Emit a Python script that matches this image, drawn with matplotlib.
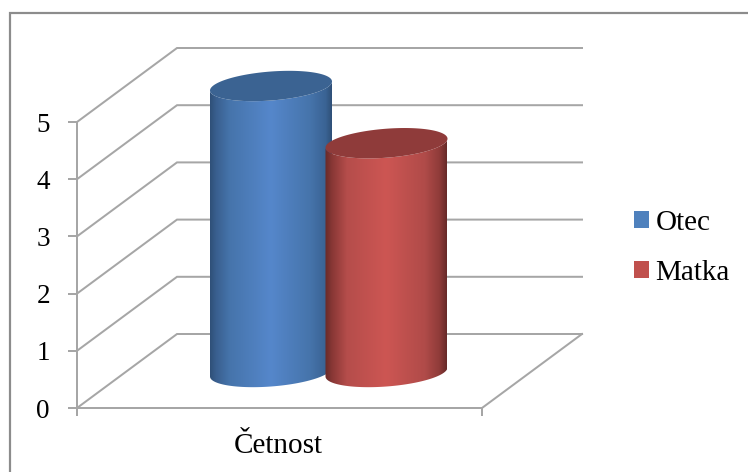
import numpy as np
import matplotlib
matplotlib.use('Agg')
import matplotlib.pyplot as plt
from matplotlib.patches import Patch, Polygon

plt.rcParams['font.family'] = ['Liberation Serif', 'DejaVu Sans']

# data
category = ['Četnost']
series_names = ['Otec', 'Matka']
otec = [5]
matka = [4]
y_ticks = [0, 1, 2, 3, 4, 5]

W, H = 748, 472
PX = 72 / 100        # points per pixel at dpi 100
UNIT = 57.2          # pixels per one y unit
GRID = '#a6a6a6'
DEPTH_X = 100
DEPTH_Y = 74 / UNIT  # the back wall is shifted up by this much
X0, X1 = 77, 482     # front edge of the floor

fig = plt.figure(figsize=(W / 100, H / 100), dpi=100)
ax = fig.add_axes([0, 0, 1, 1])
ax.patch.set_alpha(0)
ylim = (-(H - 408) / UNIT, 408 / UNIT)


def ellipse(cx, cy, t):
    # tilted cylinder cap, x in pixels and y in value units
    a, b, s = 61, 14.5 / UNIT, 4.5 / UNIT
    return cx + a * np.cos(t), cy + b * np.sin(t) + s * np.cos(t)


def cylinder(cx, value, stops, top_color, z):
    base = 36 / UNIT  # the columns stand halfway into the floor
    t_low = np.linspace(np.pi, 2 * np.pi, 80)
    xb, yb = ellipse(cx, base, t_low)
    xt, yt = ellipse(cx, base + value, t_low[::-1])
    body = np.column_stack([np.r_[xb, xt], np.r_[yb, yt]])
    xs = np.linspace(0, 1, 256)
    pos = [p for p, c in stops]
    rgb = np.array([matplotlib.colors.to_rgb(c) for p, c in stops])
    grad = np.stack([np.interp(xs, pos, rgb[:, i]) for i in range(3)], axis=1)[None, :, :]
    im = ax.imshow(grad, extent=(cx - 61, cx + 61, base - 1, base + value + 1),
                   aspect='auto', interpolation='bilinear', zorder=z)
    im.set_clip_path(Polygon(body, closed=True, transform=ax.transData))
    t = np.linspace(0, 2 * np.pi, 160)
    xc, yc = ellipse(cx, base + value, t)
    ax.fill(xc, yc, color=top_color, lw=0, zorder=z + 0.1)


# outer frame, open on the right and at the bottom
ax.plot([10.5, 10.5, W], [ylim[0], ylim[1] - 13 / UNIT, ylim[1] - 13 / UNIT],
        color='#8c8c8c', lw=2.2 * PX, solid_joinstyle='miter', zorder=1)

# back wall and side wall gridlines
for v in y_ticks:
    ax.plot([X0, X0 + DEPTH_X, 582], [v, v + DEPTH_Y, v + DEPTH_Y], color=GRID, lw=2 * PX,
            solid_joinstyle='miter', zorder=1)
# floor
ax.plot([X1, 582], [0, DEPTH_Y], color=GRID, lw=2 * PX, zorder=1)

blue = [(0, '#2f5078'), (0.05, '#395f8f'), (0.16, '#4674ab'), (0.5, '#5587cb'),
        (0.82, '#4674ab'), (0.95, '#3a6394'), (1, '#2f5078')]
red = [(0, '#672a29'), (0.06, '#8a3836'), (0.18, '#b54d4b'), (0.5, '#cd5653'),
       (0.82, '#b04b49'), (0.94, '#8f3b39'), (1, '#672a29')]
cylinder(271, otec[0], blue, '#3b6392', 3)
cylinder(386.5, matka[0], red, '#8f3b3a', 4)

# axes
for side in ['top', 'right']:
    ax.spines[side].set_visible(False)
ax.spines['left'].set_position(('data', X0))
ax.spines['left'].set_bounds(0, 5)
ax.spines['bottom'].set_position(('data', 0))
ax.spines['bottom'].set_bounds(X0, X1)
for side in ['left', 'bottom']:
    ax.spines[side].set_color(GRID)
    ax.spines[side].set_linewidth(2 * PX)
ax.set_yticks(y_ticks)
ax.tick_params(axis='y', length=9 * PX, width=2 * PX, color=GRID, pad=18 * PX,
               labelsize=19.5, labelcolor='black')
ax.set_xticks([X0, X1])
ax.set_xticklabels(['', ''])
ax.tick_params(axis='x', length=8 * PX, width=2 * PX, color=GRID)
ax.set_xticks([278.5], minor=True)
ax.set_xticklabels(category, minor=True)
ax.tick_params(axis='x', which='minor', length=0, pad=25 * PX, labelsize=21, labelcolor='black')

handles = [Patch(facecolor='#4f81bd', edgecolor='none'), Patch(facecolor='#c0504d', edgecolor='none')]
ax.legend(handles, series_names, loc='center left', bbox_to_anchor=(634 / W, 1 - 248 / H),
          frameon=False, fontsize=21, handlelength=0.52, handleheight=0.52,
          handletextpad=0.22, labelspacing=0.83, borderpad=0, borderaxespad=0)

ax.set_xlim(0, W)
ax.set_ylim(*ylim)
fig.savefig('out.png', dpi=100, facecolor='white')
